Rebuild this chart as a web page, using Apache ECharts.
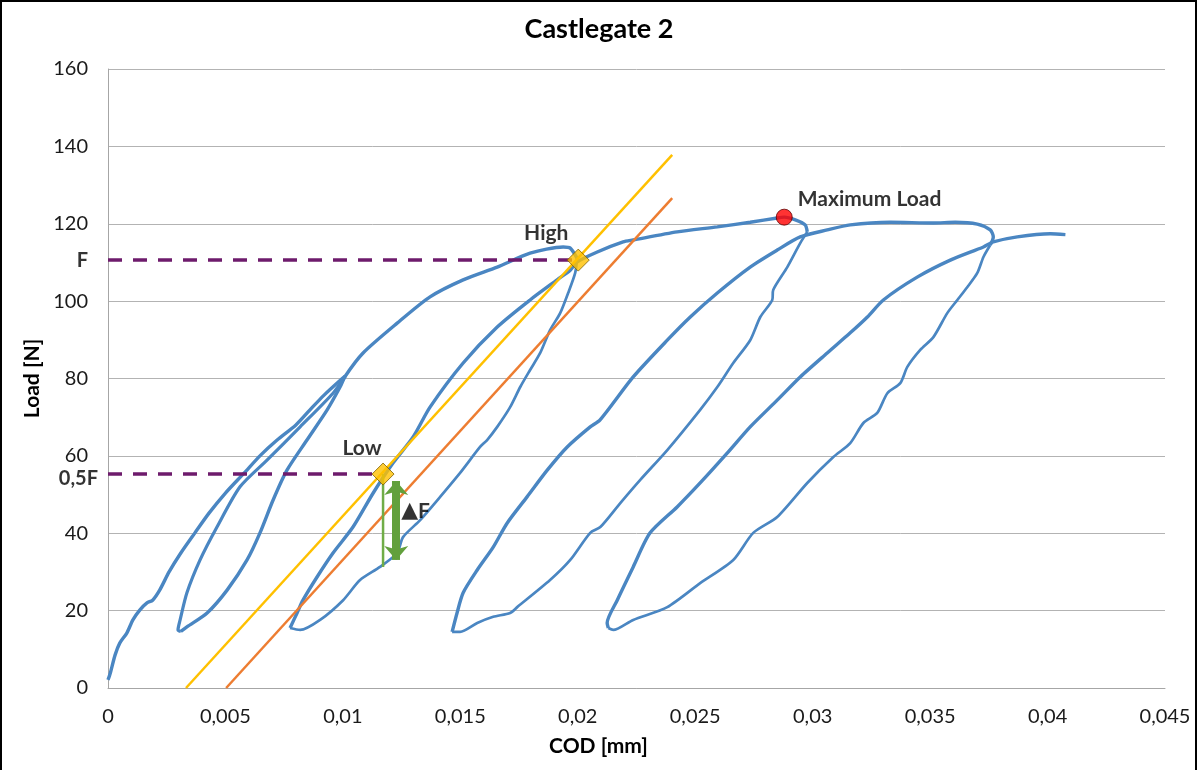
<!DOCTYPE html>
<html>
<head>
<meta charset="utf-8">
<script src="https://cdn.jsdelivr.net/npm/echarts@6/dist/echarts.min.js"></script>
<style>
html,body{margin:0;padding:0;background:#fff;}
#chart{width:1198px;height:770px;}
</style>
</head>
<body>
<div id="chart"></div>
<script>
// ---- data (COD [mm], Load [N]) ----
const titleText = 'Castlegate 2';
const xTicks = [0, 0.005, 0.01, 0.015, 0.02, 0.025, 0.03, 0.035, 0.04, 0.045];
const yTicks = [0, 20, 40, 60, 80, 100, 120, 140, 160];

const load1 = [[0,2.1],[0.0001,3.9],[0.0003,8.5],[0.0005,11.6],[0.0008,14.2],[0.00106,17.6],[0.00136,20.2],[0.00166,22.0],[0.0019,22.7],[0.0022,25.3],[0.0026,30.0],[0.0031,34.9],[0.0037,40.1],[0.0043,45.2],[0.005,50.4],[0.0058,55.6],[0.0065,60.2],[0.0072,64.1],[0.008,68.0],[0.0086,71.9],[0.0092,75.7],[0.0099,79.6],[0.0101,80.6]];
const unload1 = [[0.0101,80.6],[0.00958,76.2],[0.00818,67.5],[0.00677,58.9],[0.00562,52.0],[0.00464,41.6],[0.00392,33.1],[0.00336,24.6],[0.00307,17.6],[0.00298,15.0],[0.0031,14.6]];
const reload1 = [[0.0031,14.6],[0.00336,15.8],[0.00422,19.4],[0.00507,25.3],[0.00592,33.1],[0.00647,40.1],[0.00703,48.6],[0.00762,56.3],[0.00847,64.1],[0.00933,71.9],[0.00988,77.8],[0.0101,80.6],[0.01086,86.6],[0.01231,94.3],[0.01371,101.1],[0.01512,105.5],[0.01657,108.8],[0.01797,112.4],[0.01938,114.0],[0.01968,113.7],[0.01997,111.1]];
const unload2 = [[0.01997,111.1],[0.01989,107.3],[0.01959,102.1],[0.01925,96.9],[0.01882,92.5],[0.0184,86.6],[0.01797,82.2],[0.01755,77.8],[0.01712,72.6],[0.01657,67.5],[0.01614,64.1],[0.01584,62.3],[0.01499,55.6],[0.01414,49.4],[0.01329,43.4],[0.01256,39.0],[0.01231,34.9],[0.01158,31.3],[0.01073,27.9],[0.01001,22.7],[0.00903,17.6],[0.00818,15.0],[0.00775,15.5]];
const reload2 = [[0.00775,15.5],[0.00805,19.4],[0.0083,22.7],[0.0089,28.7],[0.00958,34.9],[0.01043,41.6],[0.01129,50.4],[0.01214,58.2],[0.01299,64.9],[0.01371,72.6],[0.01512,84.0],[0.01657,93.3],[0.01797,100.3],[0.01912,105.5],[0.01968,108.0],[0.01997,110.1],[0.02083,112.7],[0.02193,115.3],[0.02236,115.8],[0.02423,117.9],[0.02594,119.2],[0.02734,120.4],[0.02849,121.5],[0.02879,121.7],[0.02926,121.0],[0.02968,119.7],[0.02977,117.9]];
const unload3 = [[0.02977,117.9],[0.02947,115.0],[0.02892,108.8],[0.02832,102.9],[0.02828,100.3],[0.02777,95.9],[0.02734,89.9],[0.02662,84.0],[0.02594,77.8],[0.02521,71.9],[0.02381,61.5],[0.02266,53.8],[0.02181,47.8],[0.02096,41.6],[0.02053,40.1],[0.01968,33.1],[0.01882,27.9],[0.01742,20.9],[0.01712,19.4],[0.0164,18.4],[0.01572,16.8],[0.01499,14.5],[0.01465,14.5]];
const reload3 = [[0.01465,14.5],[0.01486,19.4],[0.01512,24.6],[0.01572,30.5],[0.0164,36.4],[0.01699,42.6],[0.01784,49.4],[0.0187,56.3],[0.01955,62.3],[0.02053,67.5],[0.02095,69.3],[0.02236,80.4],[0.02381,89.9],[0.02479,95.9],[0.02594,102.1],[0.02734,108.8],[0.02849,113.2],[0.02947,116.6],[0.03062,118.4],[0.0316,119.7],[0.0333,120.4],[0.03514,120.2],[0.03607,120.4],[0.03701,119.9],[0.03756,118.4],[0.03769,116.6],[0.03756,114.5]];
const unload4 = [[0.03756,114.5],[0.03727,111.4],[0.03701,107.3],[0.03658,103.6],[0.03616,100.3],[0.03573,96.9],[0.03514,90.7],[0.03458,87.4],[0.03403,83.0],[0.03373,78.8],[0.03318,76.2],[0.03275,71.1],[0.03216,68.5],[0.0316,63.3],[0.03088,59.7],[0.02977,53.0],[0.02849,44.2],[0.02747,40.1],[0.02662,33.1],[0.02521,27.1],[0.02381,20.9],[0.02236,17.6],[0.02151,15.0],[0.0213,15.5]];
const reload4 = [[0.0213,15.5],[0.02125,16.8],[0.02168,22.7],[0.02236,31.3],[0.02308,40.1],[0.02423,46.8],[0.02521,53.0],[0.02636,60.7],[0.02734,67.5],[0.02849,74.4],[0.02947,80.4],[0.03062,86.6],[0.0316,91.8],[0.03233,95.9],[0.03301,100.3],[0.03445,106.2],[0.03586,110.6],[0.03727,114.0],[0.03769,115.3],[0.03871,116.6],[0.04012,117.4],[0.04076,117.2]];

const yellowLine = [[0.00332,0],[0.02402,137.8]];
const orangeLine = [[0.00503,0],[0.02402,126.6]];
const F = 110.6;
const highPoint = [0.02002, F];
const lowPoint = [0.01171, F / 2];
const maxPoint = [0.02879, 121.7];
const thinGreen = [[0.01171, F / 2], [0.01171, 31.3]];
const deltaArrow = [[0.01227, 53.5], [0.01227, 33.1]];
const deltaLabelPos = [0.01248, 45.7];

// ---- chart ----
const FONT = 'Lato';
const chart = echarts.init(document.getElementById('chart'));
const fmt = v => (Math.round(v * 1000) / 1000).toString().replace('.', ',');
const blue = '#4A86C2';

function curve(data, w) {
  return { type: 'line', data: data, showSymbol: false, symbol: 'none', smooth: 0.25,
    lineStyle: { color: blue, width: w }, z: 2, silent: true, animation: false };
}
const bold = (size) => ({ fontFamily: FONT, fontSize: size, fontWeight: 'bold', color: '#000' });

const option = {
  animation: false,
  backgroundColor: '#fff',
  title: { text: titleText, left: 'center', top: 11, textStyle: bold(27) },
  grid: { left: 108, top: 69, width: 1057, height: 619, containLabel: false },
  xAxis: { type: 'value', min: 0, max: 0.045, interval: 0.005,
    name: 'COD [mm]', nameLocation: 'middle', nameGap: 48,
    nameTextStyle: Object.assign(bold(21), { padding: [0, 76, 0, 0] }),
    axisLine: { show: true, lineStyle: { color: '#a6a6a6', width: 1 } },
    axisTick: { show: false },
    axisLabel: { formatter: fmt, margin: 19, fontFamily: FONT, fontSize: 20, color: '#1a1a1a' },
    splitLine: { show: false } },
  yAxis: { type: 'value', min: 0, max: 160, interval: 20,
    name: 'Load [N]', nameLocation: 'middle', nameGap: 62, nameRotate: 90,
    nameTextStyle: bold(21),
    axisLine: { show: true, lineStyle: { color: '#a6a6a6', width: 1 } },
    axisTick: { show: false },
    axisLabel: { margin: 20, fontFamily: FONT, fontSize: 20, color: '#1a1a1a',
      formatter: v => yTicks.includes(v) ? String(v) : '' },
    splitLine: { show: true, lineStyle: { color: '#b3b3b3', width: 1 } } },
  graphic: [{ type: 'rect', shape: { x: 1, y: 1, width: 1195, height: 800 },
    style: { fill: 'none', stroke: '#000', lineWidth: 2 }, silent: true, z: 100 }],
  series: [
    curve(load1, 3.4), curve(unload1, 3.2), curve(reload1, 3.4), curve(unload2, 2.7),
    curve(reload2, 3.4), curve(unload3, 2.7), curve(reload3, 3.4), curve(unload4, 2.7),
    curve(reload4, 3.4),
    { type: 'line', data: yellowLine, showSymbol: false, symbol: 'none',
      lineStyle: { color: '#FFC000', width: 2.5 }, z: 3, silent: true },
    { type: 'line', data: orangeLine, showSymbol: false, symbol: 'none',
      lineStyle: { color: '#ED7D31', width: 2.5 }, z: 3, silent: true },
    { type: 'line', data: [[0, F], highPoint], showSymbol: false, symbol: 'none',
      lineStyle: { color: '#6E1B6C', width: 3.5, type: [14, 11] }, z: 4, silent: true },
    { type: 'line', data: [[0, F / 2], lowPoint], showSymbol: false, symbol: 'none',
      lineStyle: { color: '#6E1B6C', width: 3.5, type: [14, 11] }, z: 4, silent: true },
    { type: 'line', data: thinGreen, showSymbol: false, symbol: 'none',
      lineStyle: { color: '#70AD47', width: 2.5 }, z: 4, silent: true },
    { type: 'line', data: [], z: 4, silent: true,
      markLine: { silent: true, symbol: ['arrow', 'arrow'], symbolSize: [18, 14],
        label: { show: false },
        lineStyle: { color: '#62A03C', width: 8, type: 'solid' },
        data: [[{ coord: deltaArrow[0] }, { coord: deltaArrow[1] }]] } },
    { type: 'scatter', data: [highPoint], symbol: 'diamond', symbolSize: 22, z: 6, silent: true,
      itemStyle: { color: '#FFC000', borderColor: '#7F6000', borderWidth: 1 },
      label: Object.assign(bold(21), { show: true, formatter: 'High', position: 'top', offset: [-32, 0] }) },
    { type: 'scatter', data: [lowPoint], symbol: 'diamond', symbolSize: 22, z: 6, silent: true,
      itemStyle: { color: '#FFC000', borderColor: '#7F6000', borderWidth: 1 },
      label: Object.assign(bold(21), { show: true, formatter: 'Low', position: 'top', offset: [-21, 1] }) },
    { type: 'scatter', data: [maxPoint], symbol: 'circle', symbolSize: 16, z: 6, silent: true,
      itemStyle: { color: '#FF0000', borderColor: '#600000', borderWidth: 1 },
      label: Object.assign(bold(21), { show: true, formatter: 'Maximum Load', position: 'right', distance: 5, offset: [0, -18] }) },
    { type: 'scatter', data: [deltaLabelPos], symbolSize: 0, z: 6, silent: true,
      label: { show: true, formatter: '{t|\u25B2}{f|F}', position: 'right', distance: 0,
        rich: { t: { fontFamily: 'DejaVu Sans', fontSize: 22, color: '#000', verticalAlign: 'bottom' },
                f: bold(21) } } },
    { type: 'scatter', data: [[0, F]], symbolSize: 0, z: 6, silent: true,
      label: Object.assign(bold(20), { show: true, formatter: 'F', position: 'left', distance: 20 }) },
    { type: 'scatter', data: [[0, F / 2]], symbolSize: 0, z: 6, silent: true,
      label: Object.assign(bold(20), { show: true, formatter: '0,5F', position: 'left', distance: 10, offset: [0, 4] }) }
  ]
};
chart.setOption(option);
</script>
</body>
</html>
